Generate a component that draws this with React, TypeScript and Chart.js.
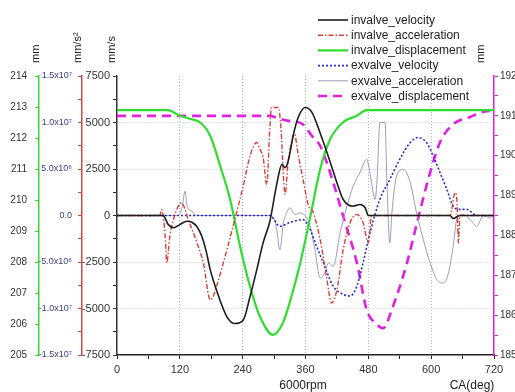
import React, { useEffect, useRef } from "react";
import { Chart, registerables } from "chart.js";
Chart.register(...registerables);

// ---- data (x in crank angle degrees) ----
const xTickLabels = [0, 120, 240, 360, 480, 600, 720];

const invVelDeg = [0, 88, 98, 108, 120, 133, 143, 152, 162, 171, 178, 190, 210, 225, 241, 254, 267, 279, 292, 305, 315, 321, 327, 337, 346, 359, 372, 391, 408, 420, 432, 451, 464, 474, 480, 636, 642, 655, 720];
const invVelVal = [0, 0, -490, -660, -490, -310, -360, -580, -1120, -2010, -2910, -4010, -5450, -5810, -5630, -4370, -2910, -1470, -310, 1670, 2750, 2570, 2930, 4370, 5270, 5810, 5560, 4190, 2800, 1760, 860, 500, 590, 410, 0, 0, -160, 0, 0];

const invAccDeg = [0, 82, 85, 92, 95, 101, 108, 117, 124, 130, 136, 146, 155, 165, 178, 181, 190, 210, 225, 241, 254, 267, 273, 279, 286, 292, 295, 308, 313, 318, 321, 327, 334, 339, 346, 356, 365, 375, 388, 400, 410, 420, 432, 445, 458, 470, 480, 486, 636, 646, 649, 652, 655, 720];
const invAccVal = [0, 0, 0.65e6, -2.16e6, -5.1e6, -2.16e6, -0.43e6, 1.0e6, 1.37e6, 0.65e6, -0.43e6, -1.87e6, -3.31e6, -5.1e6, -9.06e6, -8.99e6, -7.63e6, -3.67e6, -0.43e6, 3.16e6, 6.4e6, 7.85e6, 7.12e6, 6.26e6, 3.35e6, 9.5e6, 11.62e6, 11.62e6, 9.5e6, 4.07e6, 2.27e6, 5.86e6, 8.02e6, 8.74e6, 6.58e6, 3.7e6, 1.19e6, 0.29e6, -2.59e6, -6.55e6, -9.42e6, -7.99e6, -3.67e6, -0.79e6, 0.11e6, -0.79e6, -2.95e6, 0, 0, 2.45e6, 1.7e6, -2.95e6, 0, 0];

const invDispDeg = [0, 97, 120, 139, 159, 178, 197, 216, 235, 254, 273, 298, 317, 330, 349, 369, 388, 407, 432, 458, 477, 720];
const invDispVal = [212.9, 212.9, 212.72, 212.62, 212.5, 212.07, 211.1, 210.02, 208.51, 207.21, 206.24, 205.65, 206.04, 206.7, 207.9, 209.45, 210.99, 211.96, 212.51, 212.72, 212.9, 212.9];

const exVelDeg = [0, 292, 311, 330, 355, 369, 381, 394, 413, 432, 445, 458, 470, 483, 502, 521, 540, 560, 575, 591, 604, 617, 630, 642, 655, 668, 687, 720];
const exVelVal = [0, 0, -580, -380, -220, -760, -1650, -2540, -3800, -4240, -4330, -3800, -2540, -940, 860, 1940, 3020, 3920, 4190, 3920, 3200, 2300, 1400, 500, 330, 330, 0, 0];

const exAccDeg = [0, 113, 117, 124, 130, 134, 143, 152, 292, 299, 305, 311, 318, 324, 330, 340, 350, 362, 369, 378, 388, 397, 404, 413, 426, 439, 451, 464, 477, 483, 493, 497, 502, 512, 515, 521, 525, 534, 547, 560, 572, 585, 598, 611, 623, 633, 642, 649, 661, 674, 687, 700, 712, 720];
const exAccVal = [0, 0, 0, 0.83e6, 2.62e6, 1.0e6, 0.46e6, 0, 0, -0.22e6, -1.51e6, -3.67e6, -0.76e6, 0.32e6, 0.83e6, 0.11e6, 0.29e6, -0.25e6, -1.15e6, -3.67e6, -6.72e6, -6.18e6, -5.1e6, -5.47e6, -1.87e6, 1.0e6, 3.16e6, 4.61e6, 6.04e6, 4.61e6, 1.73e6, 4.24e6, 10.0e6, 10.0e6, 4.61e6, -2.95e6, 0.29e6, 4.24e6, 4.96e6, 3.53e6, 0.29e6, -2.59e6, -5.1e6, -6.91e6, -7.26e6, -6.18e6, -3.31e6, -0.43e6, 0.11e6, -0.43e6, -1.15e6, 0, -0.25e6, 0];

const exDispDeg = [0, 292, 305, 325, 355, 372, 388, 400, 413, 432, 458, 477, 497, 508, 527, 554, 573, 598, 617, 642, 674, 699, 712];
const exDispVal = [191.0, 191.0, 190.95, 190.88, 190.79, 190.5, 190.25, 189.85, 189.33, 188.48, 187.32, 186.13, 185.76, 185.67, 186.22, 187.32, 188.32, 189.58, 190.34, 190.79, 190.97, 191.1, 191.12];

const FONT = "'Liberation Sans', Arial, sans-serif";

const zip = (xs: number[], ys: number[]) => xs.map((x, i) => ({ x, y: ys[i] }));

const sup: Record<string, string> = { "6": "\u2076", "7": "\u2077" };
const fmtAcc = (v: number) => {
  if (Math.abs(v) < 1) return "0.0";
  if (Math.round(v) % 5000000 !== 0) return "";
  const a = Math.abs(v);
  const e = Math.floor(Math.log10(a) + 1e-9);
  const m = (a / Math.pow(10, e)).toFixed(1);
  return (v < 0 ? "-" : "") + m + "x10" + sup[String(e)];
};

const overlay = {
  id: "overlay",
  afterDraw(chart: any) {
    const ctx = chart.ctx;
    ctx.save();
    // legend
    chart.data.datasets.forEach((ds: any, i: number) => {
      const y = 20 + i * 15.2;
      ctx.save();
      ctx.strokeStyle = ds.borderColor;
      ctx.lineWidth = ds.borderWidth;
      ctx.setLineDash(ds.borderDash || []);
      ctx.beginPath();
      ctx.moveTo(318, y);
      ctx.lineTo(348, y);
      ctx.stroke();
      ctx.restore();
      ctx.fillStyle = "#222";
      ctx.font = `12px ${FONT}`;
      ctx.textBaseline = "middle";
      ctx.textAlign = "left";
      ctx.fillText(ds.label, 351, y + 0.5);
    });
    // axis unit titles
    const titles: [string, number][] = [["mm", 36], ["mm/s\u00b2", 78], ["mm/s", 112], ["mm", 481]];
    ctx.fillStyle = "#222";
    ctx.font = `11px ${FONT}`;
    titles.forEach(([t, x]) => {
      ctx.save();
      ctx.translate(x, 63);
      ctx.rotate(-Math.PI / 2);
      ctx.textAlign = "left";
      ctx.textBaseline = "middle";
      ctx.fillText(t, 0, 0);
      ctx.restore();
    });
    ctx.font = `12px ${FONT}`;
    ctx.textAlign = "center";
    ctx.textBaseline = "middle";
    ctx.fillText("6000rpm", 303, 386);
    ctx.fillText("CA(deg)", 472, 386);
    ctx.restore();
  },
};

export default function App() {
  const ref = useRef<HTMLCanvasElement>(null);
  useEffect(() => {
    if (!ref.current) return;
    Chart.defaults.font.family = FONT;
    const chart = new Chart(ref.current, {
      type: "line",
      data: {
        datasets: [
          { label: "invalve_velocity", data: zip(invVelDeg, invVelVal), yAxisID: "yVel", borderColor: "#1e1e1e", borderWidth: 1.6 },
          { label: "invalve_acceleration", data: zip(invAccDeg, invAccVal), yAxisID: "yAcc", borderColor: "#d9403a", borderWidth: 1.4, borderDash: [5, 2, 1.5, 2] },
          { label: "invalve_displacement", data: zip(invDispDeg, invDispVal), yAxisID: "yIn", borderColor: "#2fdc2f", borderWidth: 2.2 },
          { label: "exvalve_velocity", data: zip(exVelDeg, exVelVal), yAxisID: "yVel", borderColor: "#2b2bcc", borderWidth: 1.6, borderDash: [2, 2] },
          { label: "exvalve_acceleration", data: zip(exAccDeg, exAccVal), yAxisID: "yAcc", borderColor: "#9a9ab8", borderWidth: 1 },
          { label: "exvalve_displacement", data: zip(exDispDeg, exDispVal), yAxisID: "yEx", borderColor: "#e020e0", borderWidth: 2.6, borderDash: [9, 6] },
        ] as any,
      },
      options: {
        responsive: false,
        animation: false,
        devicePixelRatio: 1,
        layout: { padding: { top: 76, left: 0, right: 0, bottom: 0 } },
        elements: { point: { radius: 0 }, line: { cubicInterpolationMode: "monotone" } },
        plugins: { legend: { display: false }, tooltip: { enabled: false } },
        scales: {
          x: {
            type: "linear",
            position: "bottom",
            min: 0,
            max: 720,
            ticks: {
              stepSize: 60,
              autoSkip: false,
              maxRotation: 0,
              padding: 4,
              color: "#333",
              font: { size: 11 },
              callback: (v: any) => (xTickLabels.includes(Number(v)) ? String(v) : ""),
            },
            grid: {
              color: (c: any) => {
                const v = c.tick ? c.tick.value : -1;
                return v % 120 === 0 && v > 0 && v < 720 ? "#a9b0e6" : "rgba(0,0,0,0)";
              },
              tickColor: "#222",
              tickLength: 4,
              lineWidth: 1,
            },
            border: { color: "#222", width: 1.5, dash: [1, 2] },
            afterFit: (s: any) => { s.height = 37; },
          },
          yVel: {
            type: "linear",
            position: "left",
            weight: 1,
            min: -7500,
            max: 7500,
            ticks: {
              stepSize: 1250,
              autoSkip: false,
              padding: 3,
              color: "#333",
              font: { size: 11 },
              callback: (v: any) => (Number(v) % 2500 === 0 ? String(v) : ""),
            },
            grid: {
              color: (c: any) => {
                const v = c.tick ? c.tick.value : 7500;
                return v % 2500 === 0 && Math.abs(v) < 7500 && v !== 0 ? "#c4c4c4" : "rgba(0,0,0,0)";
              },
              tickColor: "#333",
              tickLength: 4,
            },
            border: { color: "#333", width: 1.5, dash: [1, 2] },
            afterFit: (s: any) => { s.width = 35; },
          },
          yAcc: {
            type: "linear",
            position: "left",
            weight: 2,
            min: -1.5e7,
            max: 1.5e7,
            ticks: {
              stepSize: 2.5e6,
              autoSkip: false,
              padding: 6,
              color: "#3c3c8c",
              font: { size: 9 },
              callback: (v: any) => fmtAcc(Number(v)),
            },
            grid: { drawOnChartArea: false, tickColor: "#d04848", tickLength: 4 },
            border: { color: "#d04848", width: 1.5 },
            afterFit: (s: any) => { s.width = 43; },
          },
          yIn: {
            type: "linear",
            position: "left",
            weight: 3,
            min: 205,
            max: 214,
            ticks: { stepSize: 1, autoSkip: false, padding: 8, color: "#333", font: { size: 10 } },
            grid: { drawOnChartArea: false, tickColor: "#33dd33", tickLength: 4 },
            border: { color: "#33dd33", width: 1.5 },
            afterFit: (s: any) => { s.width = 39; },
          },
          yEx: {
            type: "linear",
            position: "right",
            min: 185,
            max: 192,
            ticks: {
              stepSize: 0.5,
              autoSkip: false,
              padding: 2,
              color: "#333",
              font: { size: 10 },
              callback: (v: any) => (Number.isInteger(Number(v)) ? String(v) : ""),
            },
            grid: { drawOnChartArea: false, tickColor: "#e020e0", tickLength: 4 },
            border: { color: "#e020e0", width: 1.5 },
            afterFit: (s: any) => { s.width = 21; },
          },
        },
      } as any,
      plugins: [overlay],
    });
    return () => chart.destroy();
  }, []);
  return (
    <div style={{ position: "fixed", left: 0, top: 0, width: 515, height: 392, background: "#fff" }}>
      <canvas ref={ref} width={515} height={392} style={{ display: "block" }} />
    </div>
  );
}
